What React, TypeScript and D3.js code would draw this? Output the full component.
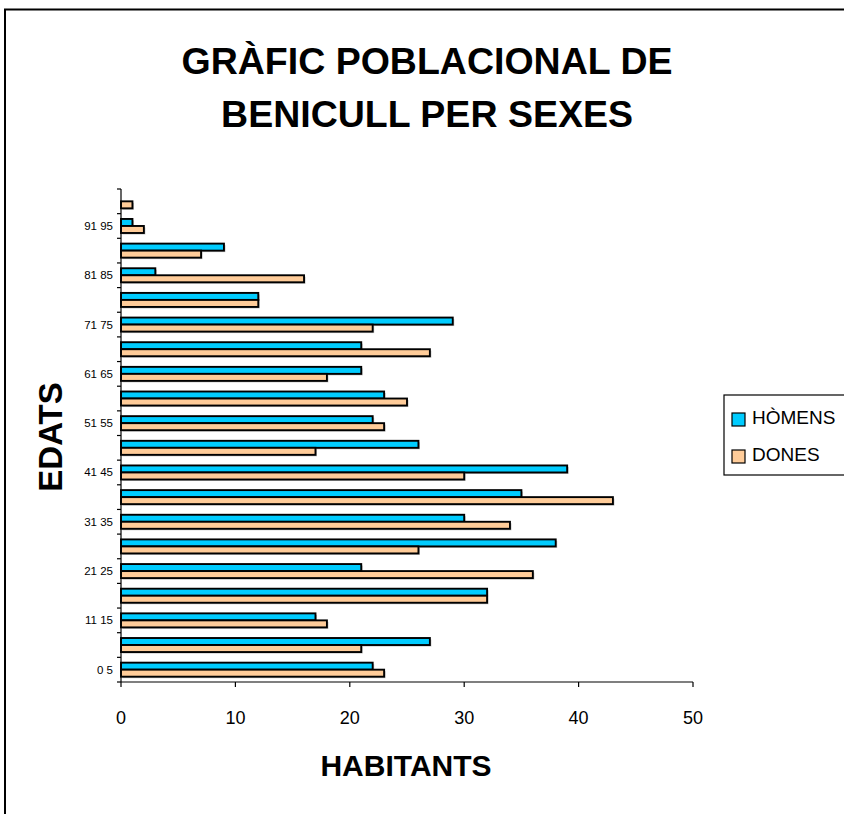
import React from "react";
import * as d3 from "d3";

const categories = ["0 5","6 10","11 15","16 20","21 25","26 30","31 35","36 40","41 45","46 50","51 55","56 60","61 65","66 70","71 75","76 80","81 85","86 90","91 95","96 100"];
const homens = [22, 27, 17, 32, 21, 38, 30, 35, 39, 26, 22, 23, 21, 21, 29, 12, 3, 9, 1, 0];
const dones = [23, 21, 18, 32, 36, 26, 34, 43, 30, 17, 23, 25, 18, 27, 22, 12, 16, 7, 2, 1];
const xTicks = [0, 10, 20, 30, 40, 50];
const seriesNames = ["HÒMENS", "DONES"];
const seriesColors = ["#00CCFF", "#FFCC99"];
const titleLines = ["GRÀFIC POBLACIONAL DE", "BENICULL PER SEXES"];

const FONT = "'Liberation Sans', Arial, sans-serif";

export default function App() {
  const W = 844, H = 814;
  const left = 121, right = 693, top = 189, bottom = 682;
  const x = d3.scaleLinear().domain([0, 50]).range([left, right]);
  const y = d3.scaleBand<string>().domain(categories).range([bottom, top]).padding(0);
  const bw = y.bandwidth();
  const barH = bw * 7 / 24.6;
  const off = (bw - 2 * barH) / 2;
  const series = [homens, dones];

  return (
    <svg width={W} height={H} style={{ position: "absolute", left: 0, top: 0, background: "#fff" }}>
      <rect x={0} y={0} width={W} height={H} fill="#fff" />
      {/* outer frame */}
      <path d={`M5,${H} L5,9.5 L${W},9.5`} fill="none" stroke="#000" strokeWidth={2} />
      {/* title */}
      {titleLines.map((t, i) => (
        <text key={t} x={427} y={74 + i * 53} textAnchor="middle" fontFamily={FONT} fontWeight="bold" fontSize={37.5} fill="#000">{t}</text>
      ))}
      {/* bars */}
      {categories.map((c, ci) => (
        <g key={c}>
          {series.map((s, si) => {
            const v = s[ci];
            if (v <= 0) return null;
            const yy = (y(c) as number) + off + si * barH;
            return (
              <g key={si}>
                <rect x={x(0) + 1.5} y={yy + 1.5} width={x(v) - x(0)} height={barH} fill="#999" opacity={0.6} />
                <rect x={x(0)} y={yy} width={x(v) - x(0)} height={barH} fill={seriesColors[si]} stroke="#000" strokeWidth={1.9} />
              </g>
            );
          })}
        </g>
      ))}
      {/* y axis */}
      <line x1={left} x2={left} y1={top} y2={bottom} stroke="#000" strokeWidth={1.2} />
      {categories.map((c) => (
        <line key={"t" + c} x1={left - 4} x2={left} y1={y(c) as number} y2={y(c) as number} stroke="#000" strokeWidth={1.2} />
      ))}
      <line x1={left - 4} x2={left} y1={bottom} y2={bottom} stroke="#000" strokeWidth={1.2} />
      {categories.map((c, i) => i % 2 === 0 ? (
        <text key={"l" + c} x={113} y={(y(c) as number) + bw / 2 + 4} textAnchor="end" fontFamily={FONT} fontSize={11.5} fill="#000">{c}</text>
      ) : null)}
      {/* x axis */}
      <line x1={left} x2={right} y1={bottom} y2={bottom} stroke="#000" strokeWidth={1.2} />
      {xTicks.map((t) => (
        <g key={"x" + t}>
          <line x1={x(t)} x2={x(t)} y1={bottom} y2={bottom + 5} stroke="#000" strokeWidth={1.2} />
          <text x={x(t)} y={724} textAnchor="middle" fontFamily={FONT} fontSize={18} fill="#000">{t}</text>
        </g>
      ))}
      {/* axis titles */}
      <text x={406} y={776} textAnchor="middle" fontFamily={FONT} fontWeight="bold" fontSize={30} fill="#000">HABITANTS</text>
      <text transform={`translate(62,437) rotate(-90)`} textAnchor="middle" fontFamily={FONT} fontWeight="bold" fontSize={33} fill="#000">EDATS</text>
      {/* legend */}
      <rect x={724} y={395} width={140} height={80} fill="#fff" stroke="#000" strokeWidth={1.2} />
      {seriesNames.map((n, i) => (
        <g key={n}>
          <rect x={732} y={413 + i * 37} width={13} height={13} fill={seriesColors[i]} stroke="#000" strokeWidth={1.2} />
          <text x={752} y={424 + i * 37} fontFamily={FONT} fontSize={19} fill="#000">{n}</text>
        </g>
      ))}
    </svg>
  );
}
